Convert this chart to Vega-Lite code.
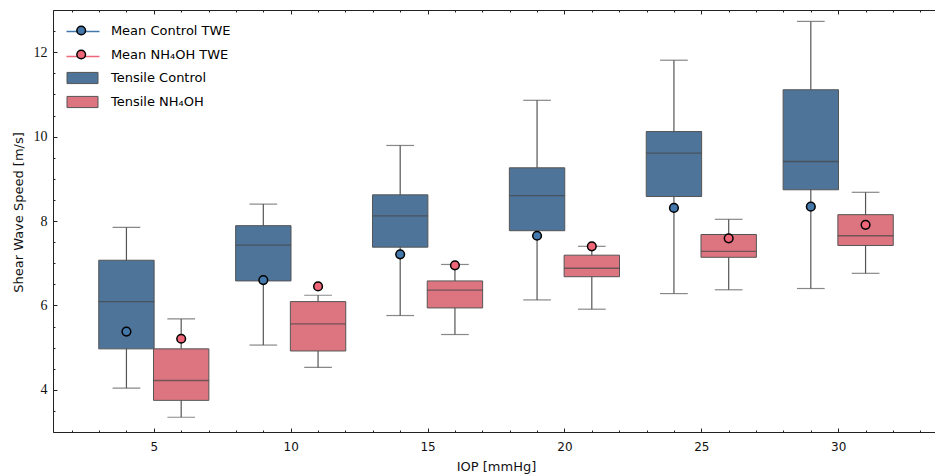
{
  "$schema": "https://vega.github.io/schema/vega-lite/v6.json",
  "width": 886,
  "height": 422,
  "autosize": {"type": "none"},
  "padding": {"left": 53, "top": 10, "right": 0, "bottom": 43},
  "background": "white",
  "config": {
    "view": {"stroke": null},
    "axis": {"grid": false, "domainColor": "#222", "tickColor": "#222", "domainWidth": 1, "tickWidth": 1, "labelColor": "#111", "titleColor": "#111", "titleFontWeight": "normal"},
    "legend": {"padding": 0}
  },
  "data": {
    "values": [
      {"iop": 4, "group": "Control", "boxLabel": "Tensile Control", "meanLabel": "Mean Control TWE", "lower": 4.04, "q1": 4.97, "median": 6.09, "q3": 7.07, "upper": 7.85, "mean": 5.38},
      {"iop": 9, "group": "Control", "boxLabel": "Tensile Control", "meanLabel": "Mean Control TWE", "lower": 5.06, "q1": 6.58, "median": 7.43, "q3": 7.89, "upper": 8.40, "mean": 6.60},
      {"iop": 14, "group": "Control", "boxLabel": "Tensile Control", "meanLabel": "Mean Control TWE", "lower": 5.76, "q1": 7.38, "median": 8.12, "q3": 8.62, "upper": 9.79, "mean": 7.21},
      {"iop": 19, "group": "Control", "boxLabel": "Tensile Control", "meanLabel": "Mean Control TWE", "lower": 6.13, "q1": 7.77, "median": 8.60, "q3": 9.26, "upper": 10.86, "mean": 7.65},
      {"iop": 24, "group": "Control", "boxLabel": "Tensile Control", "meanLabel": "Mean Control TWE", "lower": 6.28, "q1": 8.58, "median": 9.61, "q3": 10.12, "upper": 11.81, "mean": 8.31},
      {"iop": 29, "group": "Control", "boxLabel": "Tensile Control", "meanLabel": "Mean Control TWE", "lower": 6.40, "q1": 8.74, "median": 9.41, "q3": 11.11, "upper": 12.73, "mean": 8.34},
      {"iop": 6, "group": "NH4OH", "boxLabel": "Tensile NH₄OH", "meanLabel": "Mean NH₄OH TWE", "lower": 3.35, "q1": 3.75, "median": 4.22, "q3": 4.97, "upper": 5.68, "mean": 5.21},
      {"iop": 11, "group": "NH4OH", "boxLabel": "Tensile NH₄OH", "meanLabel": "Mean NH₄OH TWE", "lower": 4.53, "q1": 4.92, "median": 5.56, "q3": 6.09, "upper": 6.24, "mean": 6.45},
      {"iop": 16, "group": "NH4OH", "boxLabel": "Tensile NH₄OH", "meanLabel": "Mean NH₄OH TWE", "lower": 5.31, "q1": 5.94, "median": 6.36, "q3": 6.58, "upper": 6.97, "mean": 6.95},
      {"iop": 21, "group": "NH4OH", "boxLabel": "Tensile NH₄OH", "meanLabel": "Mean NH₄OH TWE", "lower": 5.91, "q1": 6.68, "median": 6.88, "q3": 7.19, "upper": 7.40, "mean": 7.40},
      {"iop": 26, "group": "NH4OH", "boxLabel": "Tensile NH₄OH", "meanLabel": "Mean NH₄OH TWE", "lower": 6.37, "q1": 7.14, "median": 7.28, "q3": 7.68, "upper": 8.04, "mean": 7.59},
      {"iop": 31, "group": "NH4OH", "boxLabel": "Tensile NH₄OH", "meanLabel": "Mean NH₄OH TWE", "lower": 6.76, "q1": 7.42, "median": 7.65, "q3": 8.15, "upper": 8.68, "mean": 7.91}
    ]
  },
  "resolve": {"axis": {"x": "independent", "y": "independent"}},
  "layer": [
    {
      "mark": {"type": "rule", "color": "#555", "strokeWidth": 1.2},
      "encoding": {
        "x": {"field": "iop", "type": "quantitative", "scale": {"domain": [1.5, 33.5], "nice": false, "zero": false},
          "axis": {"orient": "bottom", "values": [5, 10, 15, 20, 25, 30], "tickSize": -4, "labelPadding": 13, "labelFont": "DejaVu Sans", "labelFontSize": 12, "title": "IOP [mmHg]", "titleFont": "DejaVu Sans", "titleFontSize": 13, "titlePadding": 8}},
        "y": {"field": "lower", "type": "quantitative", "scale": {"domain": [3, 13], "nice": false, "zero": false},
          "axis": {"orient": "left", "values": [4, 6, 8, 10, 12], "tickSize": -4, "labelPadding": 10, "labelFont": "Liberation Serif", "labelFontSize": 14, "title": "Shear Wave Speed [m/s]", "titleFont": "DejaVu Sans", "titleFontSize": 13, "titlePadding": 8, "titleY": 202}},
        "y2": {"field": "upper"}
      }
    },
    {
      "mark": {"type": "tick", "orient": "horizontal", "size": 27.7, "thickness": 1.2, "color": "#555"},
      "encoding": {
        "x": {"field": "iop", "type": "quantitative",
          "axis": {"orient": "bottom", "values": [2,3,4,5,6,7,8,9,10,11,12,13,14,15,16,17,18,19,20,21,22,23,24,25,26,27,28,29,30,31,32,33], "tickSize": -2, "labels": false, "domain": false, "title": null}},
        "y": {"field": "lower", "type": "quantitative",
          "axis": {"orient": "left", "values": [3,3.5,4,4.5,5,5.5,6,6.5,7,7.5,8,8.5,9,9.5,10,10.5,11,11.5,12,12.5,13], "tickSize": -2, "labels": false, "domain": false, "title": null}}
      }
    },
    {
      "mark": {"type": "tick", "orient": "horizontal", "size": 27.7, "thickness": 1.2, "color": "#555"},
      "encoding": {
        "x": {"field": "iop", "type": "quantitative",
          "axis": {"orient": "top", "values": [5, 10, 15, 20, 25, 30], "tickSize": -4, "labels": false, "title": null}},
        "y": {"field": "upper", "type": "quantitative",
          "axis": {"orient": "right", "values": [4, 6, 8, 10, 12], "tickSize": -4, "labels": false, "title": null}}
      }
    },
    {
      "mark": {"type": "bar", "width": 55.4, "stroke": "#555", "strokeWidth": 1},
      "encoding": {
        "x": {"field": "iop", "type": "quantitative",
          "axis": {"orient": "top", "values": [2,3,4,5,6,7,8,9,10,11,12,13,14,15,16,17,18,19,20,21,22,23,24,25,26,27,28,29,30,31,32,33], "tickSize": -2, "labels": false, "domain": false, "title": null}},
        "y": {"field": "q1", "type": "quantitative",
          "axis": {"orient": "right", "values": [3,3.5,4,4.5,5,5.5,6,6.5,7,7.5,8,8.5,9,9.5,10,10.5,11,11.5,12,12.5,13], "tickSize": -2, "labels": false, "domain": false, "title": null}},
        "y2": {"field": "q3"},
        "color": {"field": "boxLabel", "type": "nominal",
          "scale": {"domain": ["Tensile Control", "Tensile NH₄OH"], "range": ["#4E7499", "#DD7581"]},
          "legend": {"title": null, "orient": "none", "legendX": 13.5, "legendY": 52, "symbolType": "M-1,-0.36L1,-0.36L1,0.36L-1,0.36Z", "symbolSize": 961, "symbolStrokeColor": "#555", "symbolStrokeWidth": 1, "symbolOpacity": 1, "labelFont": "DejaVu Sans", "labelFontSize": 13, "labelOffset": 12.5, "rowPadding": -9}}
      }
    },
    {
      "mark": {"type": "tick", "orient": "horizontal", "size": 55.4, "thickness": 1.3, "color": "#444"},
      "encoding": {
        "x": {"field": "iop", "type": "quantitative", "axis": null},
        "y": {"field": "median", "type": "quantitative", "axis": null}
      }
    },
    {
      "transform": [{"filter": "datum.iop < 0"}],
      "mark": {"type": "point", "shape": "stroke", "strokeWidth": 1.5},
      "encoding": {
        "x": {"field": "iop", "type": "quantitative", "axis": null},
        "y": {"field": "mean", "type": "quantitative", "axis": null},
        "stroke": {"field": "group", "type": "nominal",
          "scale": {"domain": ["Control", "NH4OH"], "range": ["#4477AA", "#EE6677"]},
          "legend": {"title": null, "orient": "none", "legendX": 12.5, "legendY": 4, "symbolType": "stroke", "symbolSize": 1089, "symbolStrokeWidth": 1.5, "symbolOpacity": 1, "labelFont": "DejaVu Sans", "labelFontSize": 13, "labelExpr": "''", "rowPadding": -12}}
      }
    },
    {
      "mark": {"type": "point", "filled": true, "size": 75, "stroke": "black", "strokeWidth": 1.5, "opacity": 1},
      "encoding": {
        "x": {"field": "iop", "type": "quantitative", "axis": null},
        "y": {"field": "mean", "type": "quantitative", "axis": null},
        "fill": {"field": "meanLabel", "type": "nominal",
          "scale": {"domain": ["Mean Control TWE", "Mean NH₄OH TWE"], "range": ["#4477AA", "#EE6677"]},
          "legend": {"title": null, "orient": "none", "legendX": 21.7, "legendY": 14, "symbolType": "circle", "symbolSize": 75, "symbolStrokeColor": "black", "symbolStrokeWidth": 1.5, "symbolOpacity": 1, "labelFont": "DejaVu Sans", "labelFontSize": 13, "labelOffset": 23.2, "rowPadding": 9}}
      }
    }
  ]
}
